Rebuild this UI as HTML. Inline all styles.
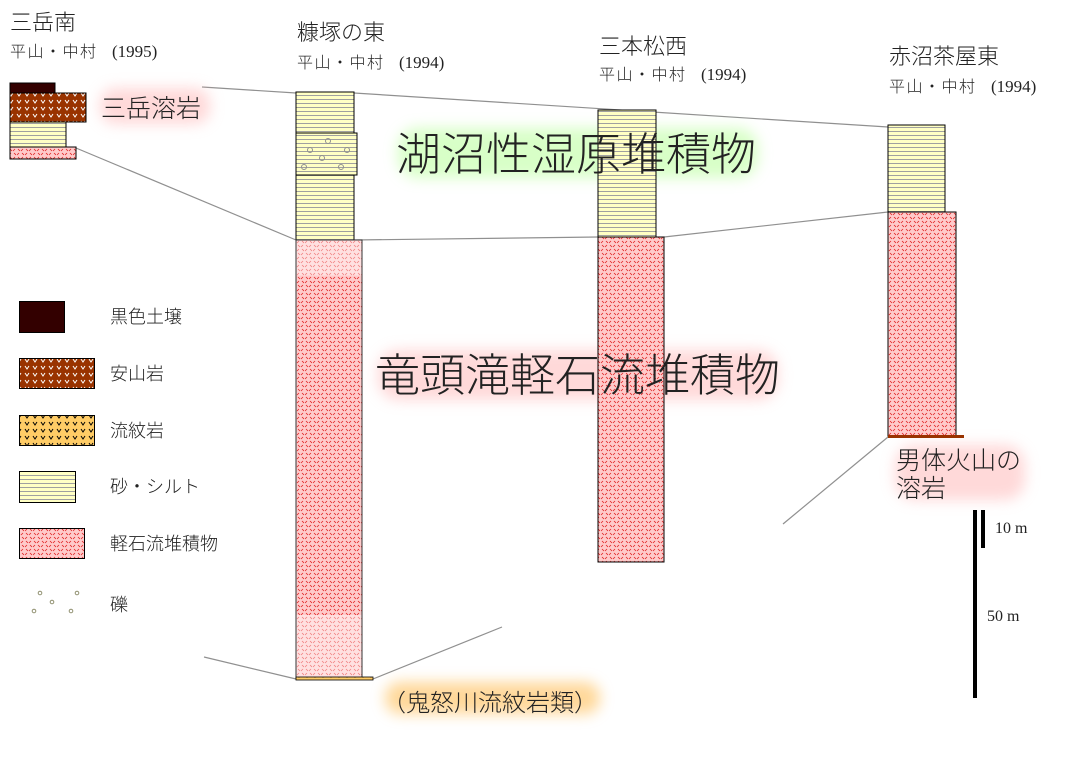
<!DOCTYPE html>
<html><head><meta charset="utf-8"><style>
html,body{margin:0;padding:0;background:#fff;}
svg{display:block;}
text{font-family:"Liberation Sans","Noto Sans CJK JP",sans-serif;fill:#222;font-weight:300;}
.s{font-family:"Liberation Serif",serif;font-weight:400;}
</style></head><body>
<svg width="1080" height="768" viewBox="0 0 1080 768" xmlns="http://www.w3.org/2000/svg">
<defs>
<pattern id="sand" width="8" height="4" patternUnits="userSpaceOnUse">
<rect width="8" height="4" fill="#ffffc4"/><line x1="0" y1="3.5" x2="8" y2="3.5" stroke="#a0a0a0" stroke-width="1"/>
</pattern>
<pattern id="pum" width="8" height="8" patternUnits="userSpaceOnUse">
<rect width="8" height="8" fill="#ffcaca"/><path d="M1 3 L3 1 M5 7 L7 5 M2 5 L4 7 M6 1 L8 3" stroke="#e02020" stroke-width="0.8"/>
</pattern>
<pattern id="puml" width="8" height="8" patternUnits="userSpaceOnUse">
<rect width="8" height="8" fill="#ffe0e0"/><path d="M1 3 L3 1 M5 7 L7 5 M2 5 L4 7 M6 1 L8 3" stroke="#f08080" stroke-width="0.8"/>
</pattern>
<pattern id="and" width="8" height="7" patternUnits="userSpaceOnUse">
<rect width="8" height="7" fill="#993300"/><path d="M1 2 L3 5 L5 2" stroke="#fff" stroke-width="1" fill="none"/>
</pattern>
<pattern id="rhy" width="8" height="7" patternUnits="userSpaceOnUse">
<rect width="8" height="7" fill="#ffcc66"/><path d="M1 2 L3 5 L5 2" stroke="#000" stroke-width="1" fill="none"/>
</pattern>
<filter id="gg" x="-20%" y="-50%" width="140%" height="200%"><feGaussianBlur stdDeviation="7"/></filter>
</defs>

<g stroke="#909090" stroke-width="1.2" fill="none">
<line x1="202" y1="87" x2="296" y2="93"/>
<line x1="354" y1="93" x2="888" y2="127"/>
<line x1="76" y1="148" x2="296" y2="240"/>
<line x1="354" y1="240" x2="598" y2="237"/>
<line x1="664" y1="237" x2="888" y2="212"/>
<line x1="783" y1="524" x2="888" y2="437"/>
<line x1="204" y1="657" x2="296" y2="679"/>
<line x1="373" y1="679" x2="502" y2="627"/>
</g>

<rect x="100" y="88" width="110" height="36" rx="15" fill="#ffc0c0" filter="url(#gg)" opacity="0.6"/>
<rect x="398" y="128" width="360" height="50" rx="20" fill="#c8ffb0" filter="url(#gg)" opacity="0.7"/>
<rect x="378" y="350" width="400" height="50" rx="20" fill="#ffc0c0" filter="url(#gg)" opacity="0.6"/>
<rect x="895" y="445" width="130" height="55" rx="20" fill="#ffc0c0" filter="url(#gg)" opacity="0.6"/>
<rect x="385" y="682" width="215" height="32" rx="15" fill="#ffc870" filter="url(#gg)" opacity="0.7"/>

<g stroke="#000" stroke-width="1">
<rect x="10" y="83" width="45" height="10" fill="#330000"/>
<rect x="10" y="93" width="76" height="29" fill="url(#and)"/>
<rect x="10" y="122" width="56" height="25" fill="url(#sand)"/>
<rect x="10" y="147" width="66" height="12" fill="url(#pum)"/>
</g>

<g stroke="#000" stroke-width="1">
<rect x="296" y="92" width="58" height="148" fill="url(#sand)"/>
<rect x="296" y="133" width="61" height="42" fill="url(#sand)"/>
<rect x="296" y="240" width="66" height="439" fill="url(#pum)"/>
</g>
<rect x="296.5" y="240.5" width="65" height="35" fill="url(#puml)"/>
<rect x="296.5" y="615" width="65" height="63" fill="url(#puml)"/>
<rect x="296" y="240" width="66" height="439" fill="none" stroke="#333" stroke-width="1"/>
<g fill="none" stroke="#909090" stroke-width="1">
<circle cx="328" cy="141" r="2.5"/><circle cx="310" cy="150" r="2.5"/><circle cx="347" cy="150" r="2.5"/>
<circle cx="322" cy="158" r="2.5"/><circle cx="304" cy="167" r="2.5"/><circle cx="341" cy="167" r="2.5"/>
</g>
<rect x="296" y="677" width="77" height="3" fill="url(#rhy)" stroke="#000" stroke-width="0.8"/>

<g stroke="#000" stroke-width="1">
<rect x="598" y="110" width="58" height="127" fill="url(#sand)"/>
<rect x="598" y="237" width="66" height="325" fill="url(#pum)"/>
</g>

<g stroke="#000" stroke-width="1">
<rect x="888" y="125" width="57" height="87" fill="url(#sand)"/>
<rect x="888" y="212" width="68" height="224" fill="url(#pum)"/>
</g>
<rect x="888" y="435" width="76" height="3" fill="#993300"/>

<rect x="973" y="510" width="4" height="188" fill="#000"/>
<rect x="981" y="510" width="4" height="38" fill="#000"/>
<text x="995" y="533" font-size="16" class="s">10 m</text>
<text x="987" y="621" font-size="16" class="s">50 m</text>

<text x="10" y="30" font-size="22">三岳南</text>
<text x="10" y="57" font-size="16" letter-spacing="1.5">平山・中村</text><text x="112" y="57" font-size="17" class="s">(1995)</text>
<text x="297" y="40" font-size="22">糠塚の東</text>
<text x="297" y="68" font-size="16" letter-spacing="1.5">平山・中村</text><text x="399" y="68" font-size="17" class="s">(1994)</text>
<text x="599" y="54" font-size="22">三本松西</text>
<text x="599" y="80" font-size="16" letter-spacing="1.5">平山・中村</text><text x="701" y="80" font-size="17" class="s">(1994)</text>
<text x="889" y="64" font-size="22">赤沼茶屋東</text>
<text x="889" y="92" font-size="16" letter-spacing="1.5">平山・中村</text><text x="991" y="92" font-size="17" class="s">(1994)</text>

<text x="101" y="117" font-size="25">三岳溶岩</text>
<text x="396" y="170" font-size="45">湖沼性湿原堆積物</text>
<text x="375" y="391" font-size="45">竜頭滝軽石流堆積物</text>
<text x="896" y="469" font-size="25">男体火山の</text>
<text x="896" y="497" font-size="25">溶岩</text>
<text x="382" y="711" font-size="24">（鬼怒川流紋岩類）</text>

<g stroke="#000" stroke-width="1">
<rect x="19.5" y="301.5" width="45" height="31" fill="#330000"/>
<rect x="19.5" y="358.5" width="75" height="30" fill="url(#and)"/>
<rect x="19.5" y="415.5" width="75" height="30" fill="url(#rhy)"/>
<rect x="19.5" y="471.5" width="56" height="31" fill="url(#sand)"/>
<rect x="19.5" y="528.5" width="65" height="30" fill="url(#pum)"/>
</g>
<g fill="none" stroke="#909070" stroke-width="1">
<circle cx="40" cy="593" r="1.8"/><circle cx="77" cy="593" r="1.8"/><circle cx="52" cy="602" r="1.8"/>
<circle cx="34" cy="611" r="1.8"/><circle cx="71" cy="611" r="1.8"/>
</g>
<g font-size="18">
<text x="110" y="323">黒色土壌</text>
<text x="110" y="380">安山岩</text>
<text x="110" y="437">流紋岩</text>
<text x="110" y="493">砂・シルト</text>
<text x="110" y="550">軽石流堆積物</text>
<text x="110" y="611">礫</text>
</g>
</svg>
</body></html>
